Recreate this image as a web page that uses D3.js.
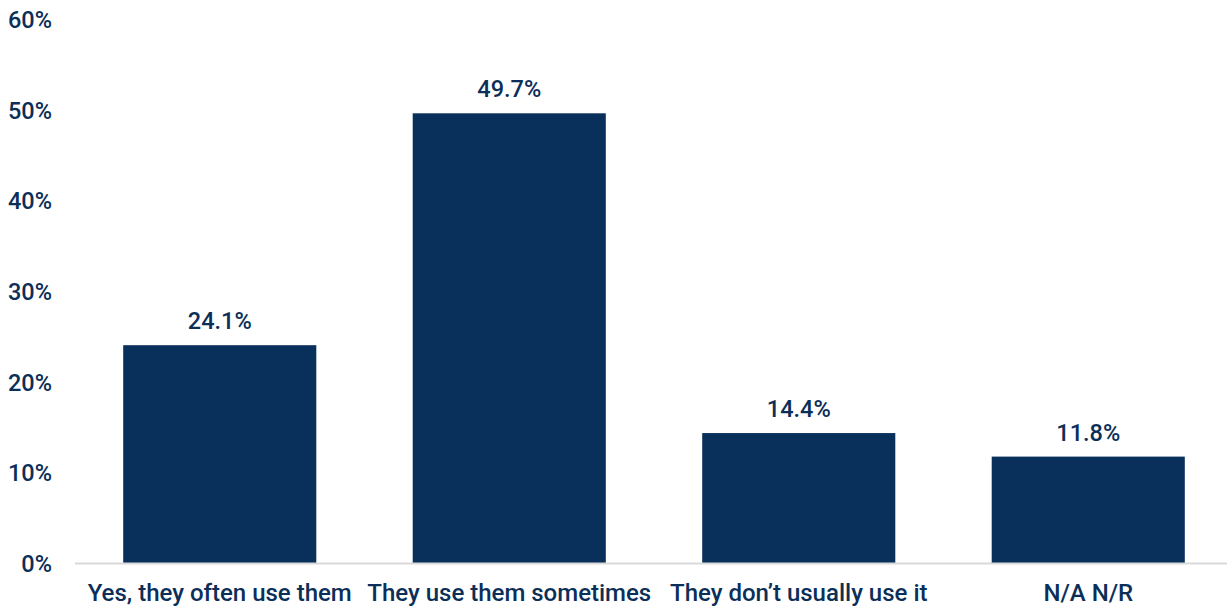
<!DOCTYPE html>
<html>
<head>
<meta charset="utf-8">
<script src="https://cdn.jsdelivr.net/npm/d3@7"></script>
<style>
  html, body { margin: 0; padding: 0; background: #fff; }
  svg { display: block; font-family: Roboto, "Noto Sans", sans-serif; }
</style>
</head>
<body>
<svg id="chart" width="1227" height="607"></svg>
<script>
const categories = ["Yes, they often use them", "They use them sometimes", "They don\u2019t usually use it", "N/A N/R"];
const values = [24.1, 49.7, 14.4, 11.8];
const yTicks = [0, 10, 20, 30, 40, 50, 60];

const svg = d3.select("#chart");
const textColor = "#0b2f58";
const barColor = "#08305b";

const x = d3.scaleBand().domain(categories).range([75, 1233]).paddingInner(0.333).paddingOuter(0.1665);
const y = d3.scaleLinear().domain([0, 60]).range([563.5, 20]);

// y tick labels
svg.append("g").selectAll("text").data(yTicks).join("text")
  .attr("x", 52).attr("y", d => y(d)).attr("dy", "0.35em")
  .attr("text-anchor", "end").attr("font-size", 23.5).attr("font-weight", 500).attr("fill", textColor)
  .text(d => d + "%");

// bars
svg.append("g").selectAll("rect").data(values).join("rect")
  .attr("x", (d, i) => x(categories[i])).attr("width", x.bandwidth())
  .attr("y", d => y(d)).attr("height", d => y(0) - y(d))
  .attr("fill", barColor);

// baseline
svg.append("line").attr("x1", 75).attr("x2", 1227).attr("y1", y(0)).attr("y2", y(0))
  .attr("stroke", "#d9d9d9").attr("stroke-width", 2);

// value labels
svg.append("g").selectAll("text").data(values).join("text")
  .attr("x", (d, i) => x(categories[i]) + x.bandwidth() / 2)
  .attr("y", d => y(d) - 16)
  .attr("text-anchor", "middle").attr("font-size", 23.5).attr("font-weight", 500).attr("fill", textColor)
  .text(d => d.toFixed(1) + "%");

// category labels
const xAxis = d3.axisBottom(x).tickSize(0).tickPadding(0);
const gx = svg.append("g").attr("transform", `translate(0,${y(0)})`).call(xAxis);
gx.select(".domain").remove();
gx.selectAll("text").attr("font-size", 24).attr("font-weight", 500).attr("fill", textColor)
  .attr("font-family", "Roboto, sans-serif").attr("y", 37.5).attr("dy", 0);
</script>
</body>
</html>
